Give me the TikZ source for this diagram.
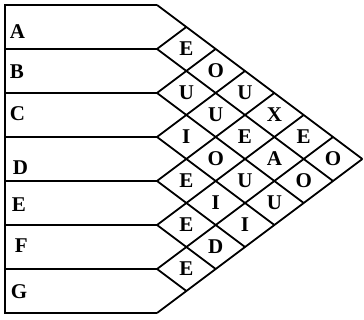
\documentclass[tikz,border=0pt]{standalone}
\usepackage{fontspec}
\setmainfont{Liberation Serif}
\usetikzlibrary{positioning}

\begin{document}
\begin{tikzpicture}[x=0.5pt, y=-0.5pt, line width=0.9pt,
    letter/.style={font=\fontsize{10.5}{12}\selectfont\bfseries, inner sep=0pt}]
    \useasboundingbox (0,0) rectangle (364,320);
    \foreach \k in {0,...,7} {
        \coordinate (l\k) at (5, 5+44*\k);
        \coordinate (p\k) at (157, 5+44*\k);
        \coordinate (b\k) at ({157+(308-44*\k)/1.5}, {159+22*\k});
        \coordinate (t\k) at ({157+44*\k/1.5}, {5+22*\k});
    }
    \draw (p0) -- (l0) -- (l7) -- (p7);
    \foreach \k in {1,...,6} \draw (l\k) -- (p\k);
    \foreach \k in {0,...,6} \draw (p\k) -- (b\k);
    \foreach \k in {1,...,7} \draw (p\k) -- (t\k);

    \foreach \lab/\xpos/\ypos in {A/9/32, B/9/72, C/9/114, D/12/168, E/11/205, F/14/246, G/10/292}
        \node[letter, anchor=west] (row\lab) at (\xpos,\ypos) {\lab};

    \foreach \i/\j/\lett in {0/1/E, 0/2/O, 0/3/U, 0/4/X, 0/5/E, 0/6/O,
                            1/2/U, 1/3/U, 1/4/E, 1/5/A, 1/6/O,
                            2/3/I, 2/4/O, 2/5/U, 2/6/U,
                            3/4/E, 3/5/I, 3/6/I,
                            4/5/E, 4/6/D,
                            5/6/E}
        \node[letter] (cell\i\j) at ({157+(\j-\i)*44/1.5}, {27+22*(\i+\j)}) {\lett};
\end{tikzpicture}
\end{document}
